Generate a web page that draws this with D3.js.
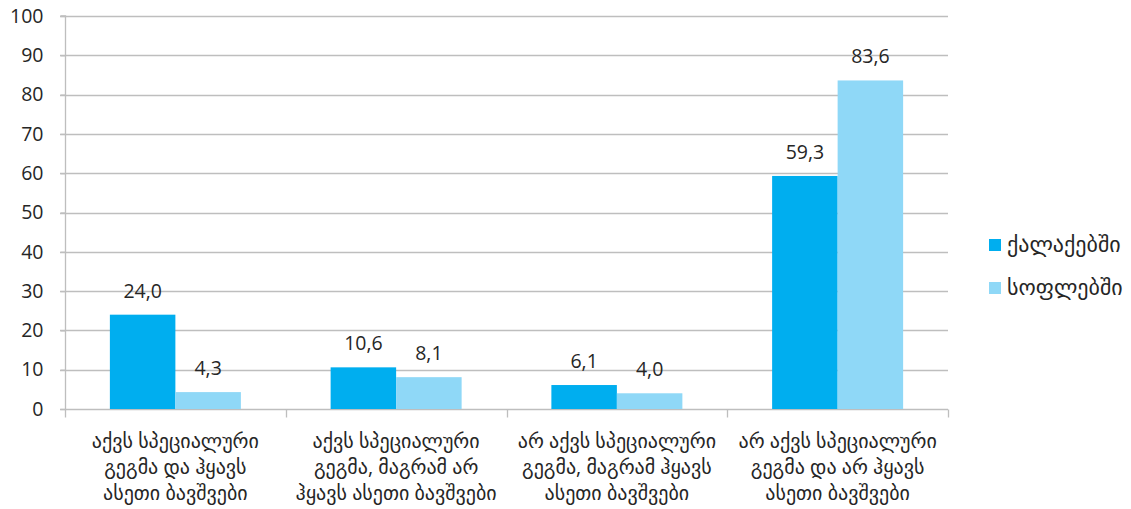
<!DOCTYPE html>
<html><head><meta charset="utf-8">
<script src="https://cdn.jsdelivr.net/npm/d3@7"></script>
<style>body{margin:0;background:#fff;} svg{display:block;} text{font-family:"Open Sans","DejaVu Sans",sans-serif;fill:#262626;}</style>
</head><body><svg id="c" width="1131" height="509"></svg>
<script>
const categories = [
 ["აქვს სპეციალური","გეგმა და ჰყავს","ასეთი ბავშვები"],
 ["აქვს სპეციალური","გეგმა, მაგრამ არ","ჰყავს ასეთი ბავშვები"],
 ["არ აქვს სპეციალური","გეგმა, მაგრამ ჰყავს","ასეთი ბავშვები"],
 ["არ აქვს სპეციალური","გეგმა და არ ჰყავს","ასეთი ბავშვები"]
];
const seriesNames = ["ქალაქებში","სოფლებში"];
const cityValues = [24.0, 10.6, 6.1, 59.3];
const villageValues = [4.3, 8.1, 4.0, 83.6];
const yTicks = [0,10,20,30,40,50,60,70,80,90,100];
const colors = ["#00AEEF","#8FD8F7"];

(function(){
const svg = d3.select("#c");
const pLeft = 65, pRight = 948, pTop = 16, pBottom = 409;
const x = d3.scaleBand().domain(d3.range(categories.length)).range([pLeft,pRight]).paddingInner(0).paddingOuter(0);
const y = d3.scaleLinear().domain([0,100]).range([pBottom,pTop]);
const bw = x.bandwidth();
const barW = 65.5;
const xs = d3.scaleBand().domain([0,1]).range([(bw-2*barW)/2,(bw+2*barW)/2]);

// gridlines
svg.append("g").selectAll("line").data(yTicks.filter(d=>d>0)).join("line")
 .attr("x1",pLeft-5).attr("x2",pRight).attr("y1",d=>Math.round(y(d))+0.5).attr("y2",d=>Math.round(y(d))+0.5)
 .attr("stroke","#BEBEBE").attr("stroke-width",1.3);

// y axis
const ya = svg.append("g").attr("transform",`translate(${pLeft+0.5},0)`)
 .call(d3.axisLeft(y).tickValues(yTicks).tickSize(5).tickFormat(d3.format("d")).tickPadding(17));
ya.select(".domain").attr("stroke","#BEBEBE").attr("stroke-width",1.3).attr("d",`M-5,${pTop}H0V${pBottom}`);
ya.selectAll(".tick line").attr("stroke","#BEBEBE").attr("stroke-width",1.3);
ya.selectAll(".tick text").attr("font-size",19.5).attr("fill","#262626").attr("font-family","Open Sans, sans-serif");

// x axis
const xa = svg.append("g").attr("transform",`translate(0,${pBottom+0.5})`);
xa.append("line").attr("x1",pLeft-5).attr("x2",pRight).attr("stroke","#BEBEBE").attr("stroke-width",1.3);
xa.selectAll("line.t").data(d3.range(categories.length+1)).join("line").attr("class","t")
 .attr("x1",i=>Math.round(pLeft+i*bw)+0.5).attr("x2",i=>Math.round(pLeft+i*bw)+0.5).attr("y1",0).attr("y2",8)
 .attr("stroke","#BEBEBE").attr("stroke-width",1.3);

// bars
const series = [cityValues, villageValues];
series.forEach((vals,si)=>{
  const g = svg.append("g");
  g.selectAll("rect").data(vals).join("rect")
   .attr("x",(d,i)=>x(i)+xs(si)).attr("width",xs.bandwidth())
   .attr("y",d=>y(d)).attr("height",d=>pBottom-y(d))
   .attr("fill",colors[si]);
  g.selectAll("text").data(vals).join("text")
   .attr("x",(d,i)=>x(i)+xs(si)+xs.bandwidth()/2).attr("y",d=>y(d)-17)
   .attr("text-anchor","middle").attr("font-size",19.5)
   .attr("font-family","Open Sans, sans-serif")
   .text(d=>d3.format(".1f")(d).replace(".",","));
});

// category labels
const cl = svg.append("g");
categories.forEach((lines,i)=>{
  const t = cl.append("text").attr("x",x(i)+bw/2).attr("y",448).attr("text-anchor","middle").attr("font-size",20);
  lines.forEach((ln,j)=>t.append("tspan").attr("x",x(i)+bw/2).attr("y",448+j*26).text(ln));
});

// legend
const lg = svg.append("g");
seriesNames.forEach((n,i)=>{
  lg.append("rect").attr("x",989).attr("y",239+i*43).attr("width",12).attr("height",12).attr("fill",colors[i]);
  lg.append("text").attr("x",1007).attr("y",252+i*43).attr("font-size",22).text(n);
});
})();
</script></body></html>
